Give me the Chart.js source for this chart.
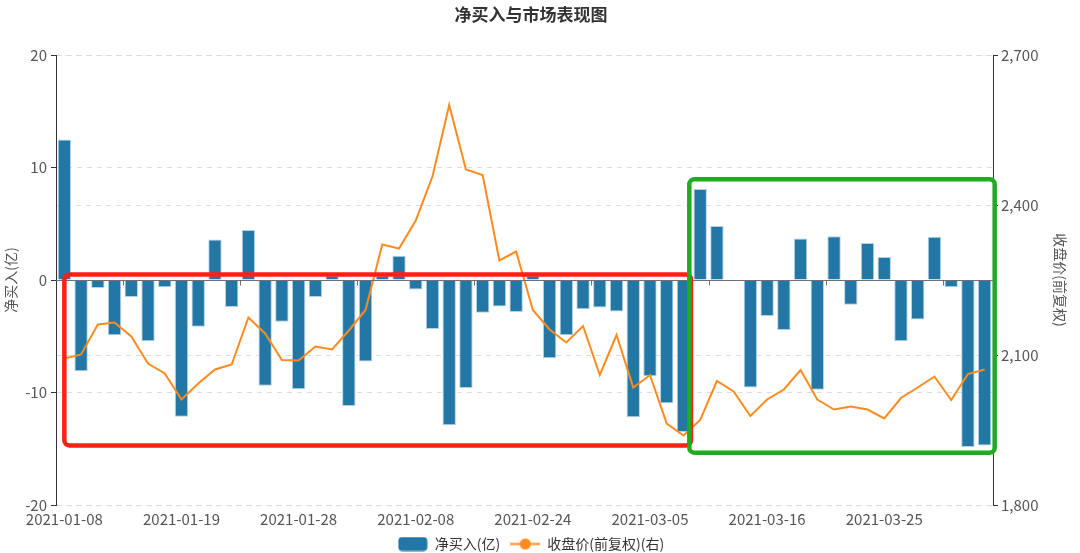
<!DOCTYPE html>
<html>
<head>
<meta charset="utf-8">
<script src="https://cdn.jsdelivr.net/npm/chart.js@4.4.1/dist/chart.umd.min.js"></script>
<style>
html,body{margin:0;padding:0;background:#fff;}
#wrap{width:1080px;height:553px;position:relative;}
</style>
</head>
<body>
<div id="wrap"><canvas id="c" width="1080" height="553"></canvas></div>
<script>
// ---- data ----
const dates = [
  '2021-01-08','2021-01-11','2021-01-12','2021-01-13','2021-01-14','2021-01-15','2021-01-18','2021-01-19',
  '2021-01-20','2021-01-21','2021-01-22','2021-01-25','2021-01-26','2021-01-27','2021-01-28','2021-01-29',
  '2021-02-01','2021-02-02','2021-02-03','2021-02-04','2021-02-05','2021-02-08','2021-02-09','2021-02-10',
  '2021-02-18','2021-02-19','2021-02-22','2021-02-23','2021-02-24','2021-02-25','2021-02-26',
  '2021-03-01','2021-03-02','2021-03-03','2021-03-04','2021-03-05','2021-03-08','2021-03-09','2021-03-10',
  '2021-03-11','2021-03-12','2021-03-15','2021-03-16','2021-03-17','2021-03-18','2021-03-19','2021-03-22',
  '2021-03-23','2021-03-24','2021-03-25','2021-03-26','2021-03-29','2021-03-30','2021-03-31',
  '2021-04-01','2021-04-02'
];
const netBuy = [
  12.5, -8.1, -0.7, -4.9, -1.5, -5.45, -0.65, -12.15, -4.15, 3.6, -2.4, 4.45, -9.4, -3.7,
  -9.7, -1.5, 0.4, -11.2, -7.25, 0.4, 2.15, -0.85, -4.35, -12.9, -9.6, -2.9, -2.35, -2.85,
  0.4, -6.95, -4.9, -2.6, -2.45, -2.8, -12.2, -8.55, -10.95, -13.5, 8.1, 4.8, -0.1, -9.55,
  -3.2, -4.45, 3.7, -9.75, 3.9, -2.2, 3.3, 2.05, -5.45, -3.5, 3.85, -0.65, -14.85, -14.7
];
const closePrice = [
  2093, 2101, 2161, 2165, 2137, 2083, 2063, 2011, 2043, 2071, 2081, 2175, 2143, 2090,
  2089, 2117, 2111, 2149, 2190, 2321, 2313, 2369, 2457, 2600, 2471, 2460, 2289, 2307,
  2190, 2151, 2125, 2158, 2060, 2140, 2035, 2060, 1963, 1939, 1970, 2048, 2027, 1978,
  2011, 2031, 2070, 2011, 1991, 1997, 1991, 1973, 2014, 2035, 2057, 2010, 2062, 2071
];
const leftAxis = {min: -20, max: 20, step: 10};
const rightAxis = {min: 1800, max: 2700, step: 300};
const labelStep = 7;
// highlighted ranges in data units (category index / left-axis value)
const highlightRanges = [
  {from: 0.0, to: 37.45, top: 0.5, bottom: -14.7, color: '#FF1F14'},
  {from: 37.35, to: 55.6, top: 8.95, bottom: -15.35, color: '#1FAD1F'}
];

// ---- styles ----
const BAR_COLOR = '#2377A4';
const LINE_COLOR = '#FF8B1E';
const TXT = '#555';
Chart.defaults.font.family = "'Noto Sans CJK SC', 'Noto Sans', sans-serif";

function makeBarIcon() {
  const c = document.createElement('canvas'); c.width = 30; c.height = 15;
  const g = c.getContext('2d');
  g.fillStyle = BAR_COLOR; g.beginPath(); g.roundRect(0.5, 0.5, 29, 14, 4); g.fill();
  return c;
}
function makeLineIcon() {
  const c = document.createElement('canvas'); c.width = 30; c.height = 15;
  const g = c.getContext('2d');
  g.strokeStyle = LINE_COLOR; g.lineWidth = 2;
  g.beginPath(); g.moveTo(0, 7.5); g.lineTo(30, 7.5); g.stroke();
  g.fillStyle = LINE_COLOR; g.beginPath(); g.arc(15, 7.5, 5.5, 0, Math.PI * 2); g.fill();
  return c;
}
const barIcon = makeBarIcon();
const lineIcon = makeLineIcon();

const overlay = {
  id: 'overlay',
  afterDatasetsDraw(chart) {
    const {ctx, chartArea} = chart;
    const x = chart.scales.x, y = chart.scales.y;
    const y0 = Math.round(y.getPixelForValue(0)) + 0.5;
    ctx.save();
    ctx.strokeStyle = '#6E7079'; ctx.lineWidth = 1;
    ctx.beginPath(); ctx.moveTo(chartArea.left, y0); ctx.lineTo(chartArea.right, y0); ctx.stroke();
    // category-boundary ticks on the zero axis line
    for (let i = 4; i < dates.length; i += labelStep) {
      const px = Math.round((x.getPixelForValue(i - 1) + x.getPixelForValue(i)) / 2) + 0.5;
      ctx.beginPath(); ctx.moveTo(px, y0); ctx.lineTo(px, y0 + 5); ctx.stroke();
    }
    // highlight frames
    highlightRanges.forEach(r => {
      const x1 = x.getPixelForValue(r.from), x2 = x.getPixelForValue(r.to);
      const y1 = y.getPixelForValue(r.top), y2 = y.getPixelForValue(r.bottom);
      ctx.strokeStyle = r.color; ctx.lineWidth = 4.5;
      ctx.beginPath(); ctx.roundRect(x1, y1, x2 - x1, y2 - y1, 5); ctx.stroke();
    });
    ctx.restore();
  }
};

new Chart(document.getElementById('c'), {
  data: {
    labels: dates,
    datasets: [
      {
        type: 'bar', label: '净买入(亿)', data: netBuy, yAxisID: 'y', order: 1,
        backgroundColor: BAR_COLOR, borderColor: 'rgba(170,205,228,0.9)', borderWidth: 1,
        barPercentage: 0.8, categoryPercentage: 1.0
      },
      {
        type: 'line', label: '收盘价(前复权)(右)', data: closePrice, yAxisID: 'y1', order: 0,
        borderColor: LINE_COLOR, backgroundColor: LINE_COLOR, borderWidth: 2,
        pointRadius: 0, tension: 0
      }
    ]
  },
  options: {
    responsive: false, animation: false,
    layout: {padding: {left: 0, right: 18, top: 0, bottom: -8}},
    plugins: {
      title: {
        display: true, text: '净买入与市场表现图', color: '#333',
        font: {size: 17, weight: 'bold'}, padding: {top: 4, bottom: 30.6}
      },
      legend: {
        display: true, position: 'bottom',
        labels: {
          usePointStyle: true, pointStyleWidth: 30, color: '#333', padding: 10,
          font: {size: 14},
          generateLabels(chart) {
            const items = Chart.defaults.plugins.legend.labels.generateLabels(chart);
            items.sort((a, b) => a.datasetIndex - b.datasetIndex);
            items.forEach(it => { it.pointStyle = it.datasetIndex === 0 ? barIcon : lineIcon; });
            return items;
          }
        }
      },
      tooltip: {enabled: false}
    },
    scales: {
      x: {
        type: 'category', offset: true,
        grid: {display: false, drawTicks: false},
        border: {display: false},
        ticks: {
          autoSkip: false, maxRotation: 0, minRotation: 0, padding: 5,
          color: TXT, font: {size: 15},
          callback(v, i) { return i % labelStep === 0 ? dates[i] : ''; }
        },
        afterFit(s) { s.height = 22; }
      },
      y: {
        position: 'left', min: leftAxis.min, max: leftAxis.max,
        ticks: {stepSize: leftAxis.step, color: TXT, font: {size: 15}, padding: 4},
        grid: {
          color: c => (c.tick && c.tick.value === 0) ? 'rgba(0,0,0,0)' : '#DDDDDD',
          tickColor: '#333', tickLength: 5, lineWidth: 1
        },
        border: {display: true, color: '#333', width: 1, dash: [5, 5]},
        title: {display: true, text: '净买入(亿)', color: TXT, font: {size: 14}, padding: {top: 2.6, bottom: 0}},
        afterFit(s) { s.width = 56; }
      },
      y1: {
        position: 'right', min: rightAxis.min, max: rightAxis.max,
        ticks: {
          stepSize: rightAxis.step, color: TXT, font: {size: 15}, padding: 3,
          callback: v => v.toLocaleString('en-US')
        },
        grid: {color: '#DDDDDD', tickColor: '#333', tickLength: 5, lineWidth: 1},
        border: {display: true, color: '#333', width: 1, dash: [5, 5]},
        title: {display: true, text: '收盘价(前复权)', color: TXT, font: {size: 14}, padding: {top: -6.4, bottom: 0}},
        afterFit(s) { s.width = 69; }
      }
    }
  },
  plugins: [overlay]
});
</script>
</body>
</html>
